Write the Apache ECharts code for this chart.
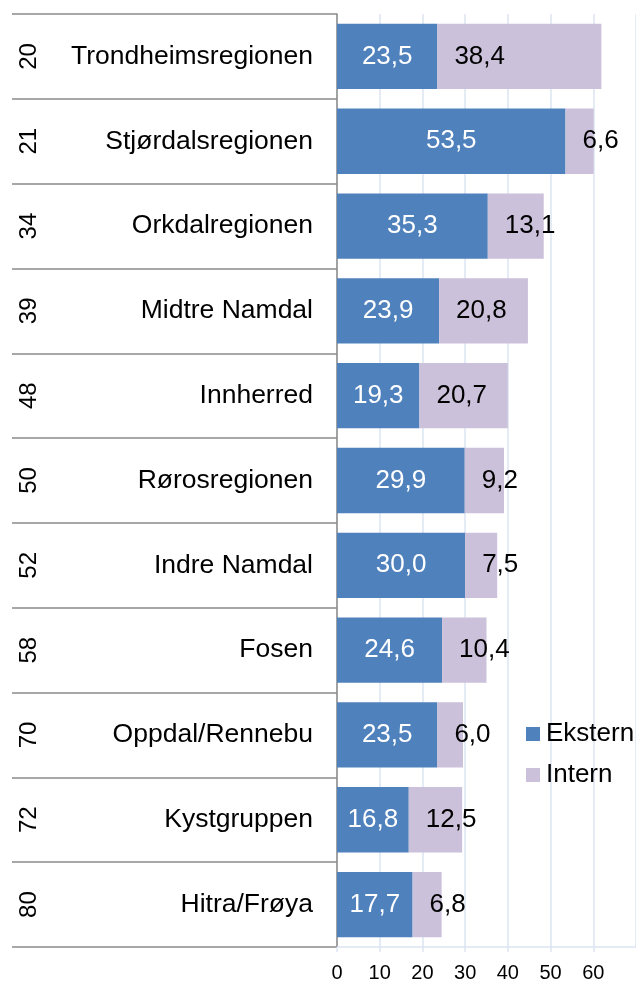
<!DOCTYPE html>
<html>
<head>
<meta charset="utf-8">
<script src="https://cdn.jsdelivr.net/npm/echarts@6/dist/echarts.min.js"></script>
<style>
  html, body { margin: 0; padding: 0; background: #fff; }
  #pic1 { width: 636px; height: 983px; }
</style>
</head>
<body>
<div id="pic1"></div>
<script>
// regions, sorted by rank
var ranks = ["20", "21", "34", "39", "48", "50", "52", "58", "70", "72", "80"];
var regions = ["Trondheimsregionen", "Stjørdalsregionen", "Orkdalregionen", "Midtre Namdal",
  "Innherred", "Rørosregionen", "Indre Namdal", "Fosen", "Oppdal/Rennebu", "Kystgruppen", "Hitra/Frøya"];
var ekstern = [23.5, 53.5, 35.3, 23.9, 19.3, 29.9, 30.0, 24.6, 23.5, 16.8, 17.7];
var intern = [38.4, 6.6, 13.1, 20.8, 20.7, 9.2, 7.5, 10.4, 6.0, 12.5, 6.8];

var font = "Liberation Sans";
var fmt = function (p) {
  return p.value.toFixed(1).replace(".", ",");
};

var myChart = echarts.init(document.getElementById("pic1"));
var option = {
  backgroundColor: "#fff",
  textStyle: { fontFamily: font },
  color: ["#4f81bd", "#ccc1da"],
  grid: {
    left: 337,
    top: 14,
    width: 300,
    bottom: 36,
  },
  legend: {
    orient: "vertical",
    left: 521,
    top: 716,
    itemWidth: 14,
    itemHeight: 14,
    itemGap: 15,
    icon: "rect",
    textStyle: { fontSize: 26, color: "#000", fontFamily: font, padding: [0, 0, 0, 1] },
    data: ["Ekstern", "Intern"],
  },
  xAxis: {
    type: "value",
    min: 0,
    max: 70,
    interval: 10,
    axisLine: { show: true, lineStyle: { color: "#dbe5f1", width: 1.5 } },
    axisTick: { show: true, length: 5, lineStyle: { color: "#dbe5f1", width: 1.5 } },
    splitLine: { show: true, lineStyle: { color: "#dbe5f1", width: 1.5 } },
    axisLabel: {
      color: "#000",
      fontSize: 20,
      margin: 16,
      showMaxLabel: false,
      fontFamily: font,
    },
  },
  yAxis: [
    {
      type: "category",
      inverse: true,
      data: regions,
      axisLine: { show: true, lineStyle: { color: "#8a8a8a", width: 1.5 } },
      axisTick: { show: true, length: 325, lineStyle: { color: "#8a8a8a", width: 1.5 } },
      splitLine: { show: false },
      axisLabel: { color: "#000", fontSize: 26.5, margin: 24, fontFamily: font },
    },
    {
      type: "category",
      inverse: true,
      position: "left",
      offset: 290,
      data: ranks,
      axisLine: { show: false },
      axisTick: { show: false },
      splitLine: { show: false },
      axisLabel: { color: "#000", fontSize: 24, rotate: 90, margin: 6, fontFamily: font },
    },
  ],
  series: [
    {
      type: "bar",
      name: "Ekstern",
      stack: "sum",
      barCategoryGap: "23%",
      data: ekstern,
      label: {
        show: true,
        position: "inside",
        color: "#fff",
        fontSize: 26,
        fontFamily: font,
        formatter: fmt,
      },
    },
    {
      type: "bar",
      name: "Intern",
      stack: "sum",
      barCategoryGap: "23%",
      data: intern,
      label: {
        show: true,
        position: "insideLeft",
        distance: 17,
        color: "#000",
        fontSize: 26,
        fontFamily: font,
        formatter: fmt,
      },
    },
  ],
};
myChart.setOption(option);
</script>
</body>
</html>
